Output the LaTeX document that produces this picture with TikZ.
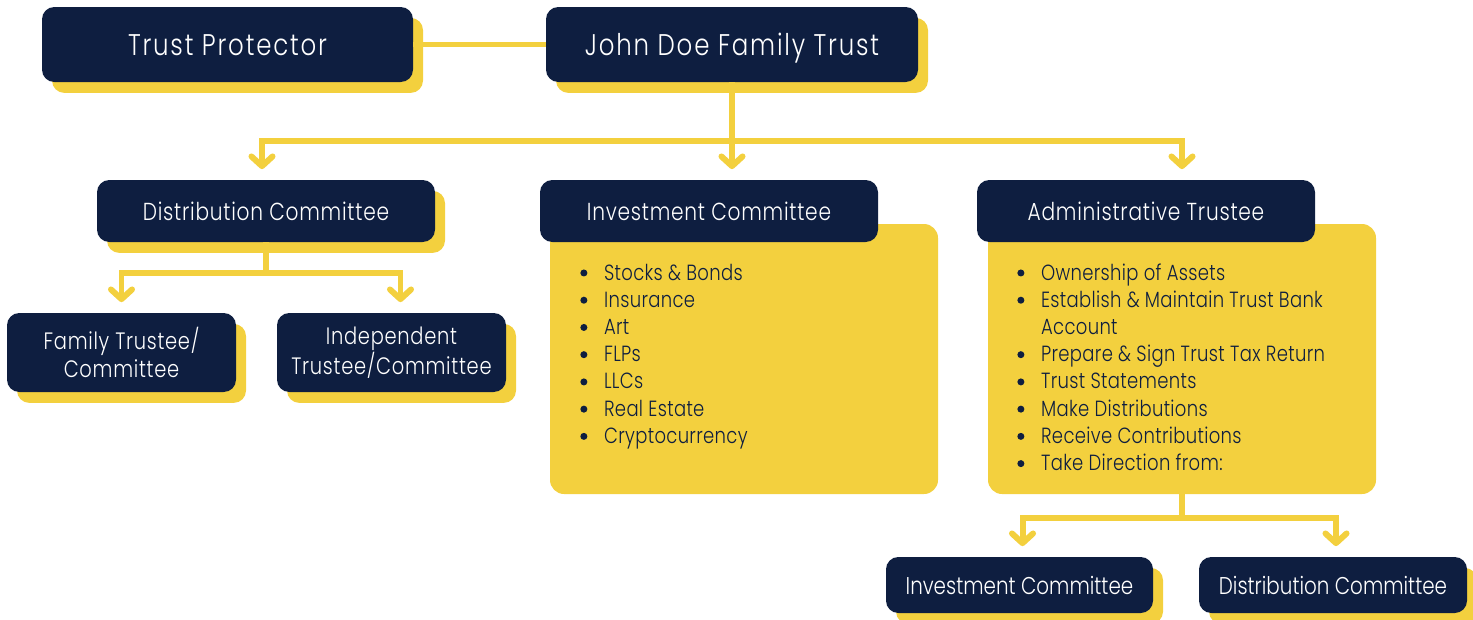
\documentclass[tikz,border=0pt]{standalone}
\usepackage{fontspec}
\setmainfont{Poppins}[FakeStretch=0.82, UprightFont=* Light]
\usetikzlibrary{arrows.meta, positioning, calc, shadows}
\definecolor{navy}{RGB}{14,30,64}
\definecolor{gold}{RGB}{243,208,62}

\tikzset{
    box/.style={fill=navy, text=white, rounded corners=7pt, inner sep=0pt, align=center},
    lift/.style={drop shadow={fill=gold, opacity=1, shadow xshift=5.7pt, shadow yshift=-6.2pt}},
    panel/.style={fill=gold, rounded corners=8pt, inner sep=0pt},
    sz/.style 2 args={minimum width=#1*0.02cm, minimum height=#2*0.02cm},
    link/.style={draw=gold, line width=3.4pt},
    arr/.style={link, -{Straight Barb[length=5.5pt, width=12pt, round]}, shorten >=6pt},
    big/.style={font=\fontsize{17}{20}\selectfont\addfontfeatures{LetterSpace=6},
        text height=12pt, text depth=0pt},
    mid/.style={font=\fontsize{14}{16.5}\selectfont\addfontfeatures{LetterSpace=3}},
    small/.style={font=\fontsize{13.5}{16}\selectfont\addfontfeatures{LetterSpace=3}},
    low/.style={font=\fontsize{13.8}{16.5}\selectfont}
}
% round list bullet
\newcommand\dotmark{\tikz[baseline=-4pt]\fill[navy] (0,0) circle (2pt);}

\begin{document}
\begin{tikzpicture}[x=0.02cm, y=-0.02cm]
    \useasboundingbox (0,0) rectangle (1473,619);

    %--- top row
    \node (TP)   [box, lift, big, sz={371}{75}] at (227.5,44.5) {Trust Protector};
    \node (JDFT) [box, lift, big, sz={372}{75}] at (732,44.5)   {John Doe Family Trust};

    %--- yellow panels behind the committee headers
    \node (ICp) [panel, sz={388}{270}] at (744,359)  {};
    \node (ATp) [panel, sz={388}{270}] at (1182,359) {};

    %--- second row
    \node (DC) [box, lift, mid, sz={338}{62}] at (266,211)  {Distribution Committee};
    \node (IC) [box, mid, sz={338}{62}]       at (709,211)  {Investment Committee};
    \node (AT) [box, mid, sz={338}{62}]       at (1146,211) {Administrative Trustee};

    %--- trustees under the distribution committee
    \node (FTC) [box, lift, small, sz={229}{79}] at (121.5,352.5) {Family Trustee/\\Committee};
    \node (ITC) [box, lift, small, sz={229}{79}] at (391.5,352.5) {Independent\\Trustee/Committee};

    %--- directions for the administrative trustee
    \node (IC2) [box, lift, low, sz={267}{56}] at (1019.5,585) {Investment Committee};
    \node (DC2) [box, lift, low, sz={268}{56}] at (1333,585)   {Distribution Committee};

    %--- bullet lists
    \def\listfont{\fontsize{12.5}{15.5}\selectfont\addfontfeatures{LetterSpace=1.5}}
    \node (ICl) [text=navy, inner sep=0pt, anchor=base west] at (580,280)
        {\listfont\begin{tabular}[t]{@{}l@{\hspace{9.5pt}}l@{}}
            \dotmark & Stocks \& Bonds\\
            \dotmark & Insurance\\
            \dotmark & Art\\
            \dotmark & FLPs\\
            \dotmark & LLCs\\
            \dotmark & Real Estate\\
            \dotmark & Cryptocurrency
        \end{tabular}};
    \node (ATl) [text=navy, inner sep=0pt, anchor=base west] at (1017,280)
        {\listfont\begin{tabular}[t]{@{}l@{\hspace{9.5pt}}l@{}}
            \dotmark & Ownership of Assets\\
            \dotmark & Establish \& Maintain Trust Bank\\
                     & Account\\
            \dotmark & Prepare \& Sign Trust Tax Return\\
            \dotmark & Trust Statements\\
            \dotmark & Make Distributions\\
            \dotmark & Receive Contributions\\
            \dotmark & Take Direction from:
        \end{tabular}};

    % hubs where the connectors split
    \coordinate (hub)  at (732,141);
    \coordinate (hubD) at (266,273);
    \coordinate (hubA) at (1182,518);

    %--- connectors
    \draw[link] (TP.east) -- (JDFT.west);
    \draw[link] (JDFT.south) -- (hub);
    \draw[arr] (hub) -| ($(DC.north)+(-4,0)$);
    \draw[arr] (hub) -- (hub |- IC.north);
    \draw[arr] (hub) -| (AT.north -| ATp.north);

    \draw[link] (DC.south) -- (hubD);
    \draw[arr] (hubD) -| (FTC.north);
    \draw[arr] (hubD) -| ($(ITC.north)+(9,0)$);

    \draw[link] (ATp.south) -- (hubA);
    \draw[arr] (hubA) -| ($(IC2.north)+(3,0)$);
    \draw[arr] (hubA) -| ($(DC2.north)+(3,0)$);
\end{tikzpicture}
\end{document}
